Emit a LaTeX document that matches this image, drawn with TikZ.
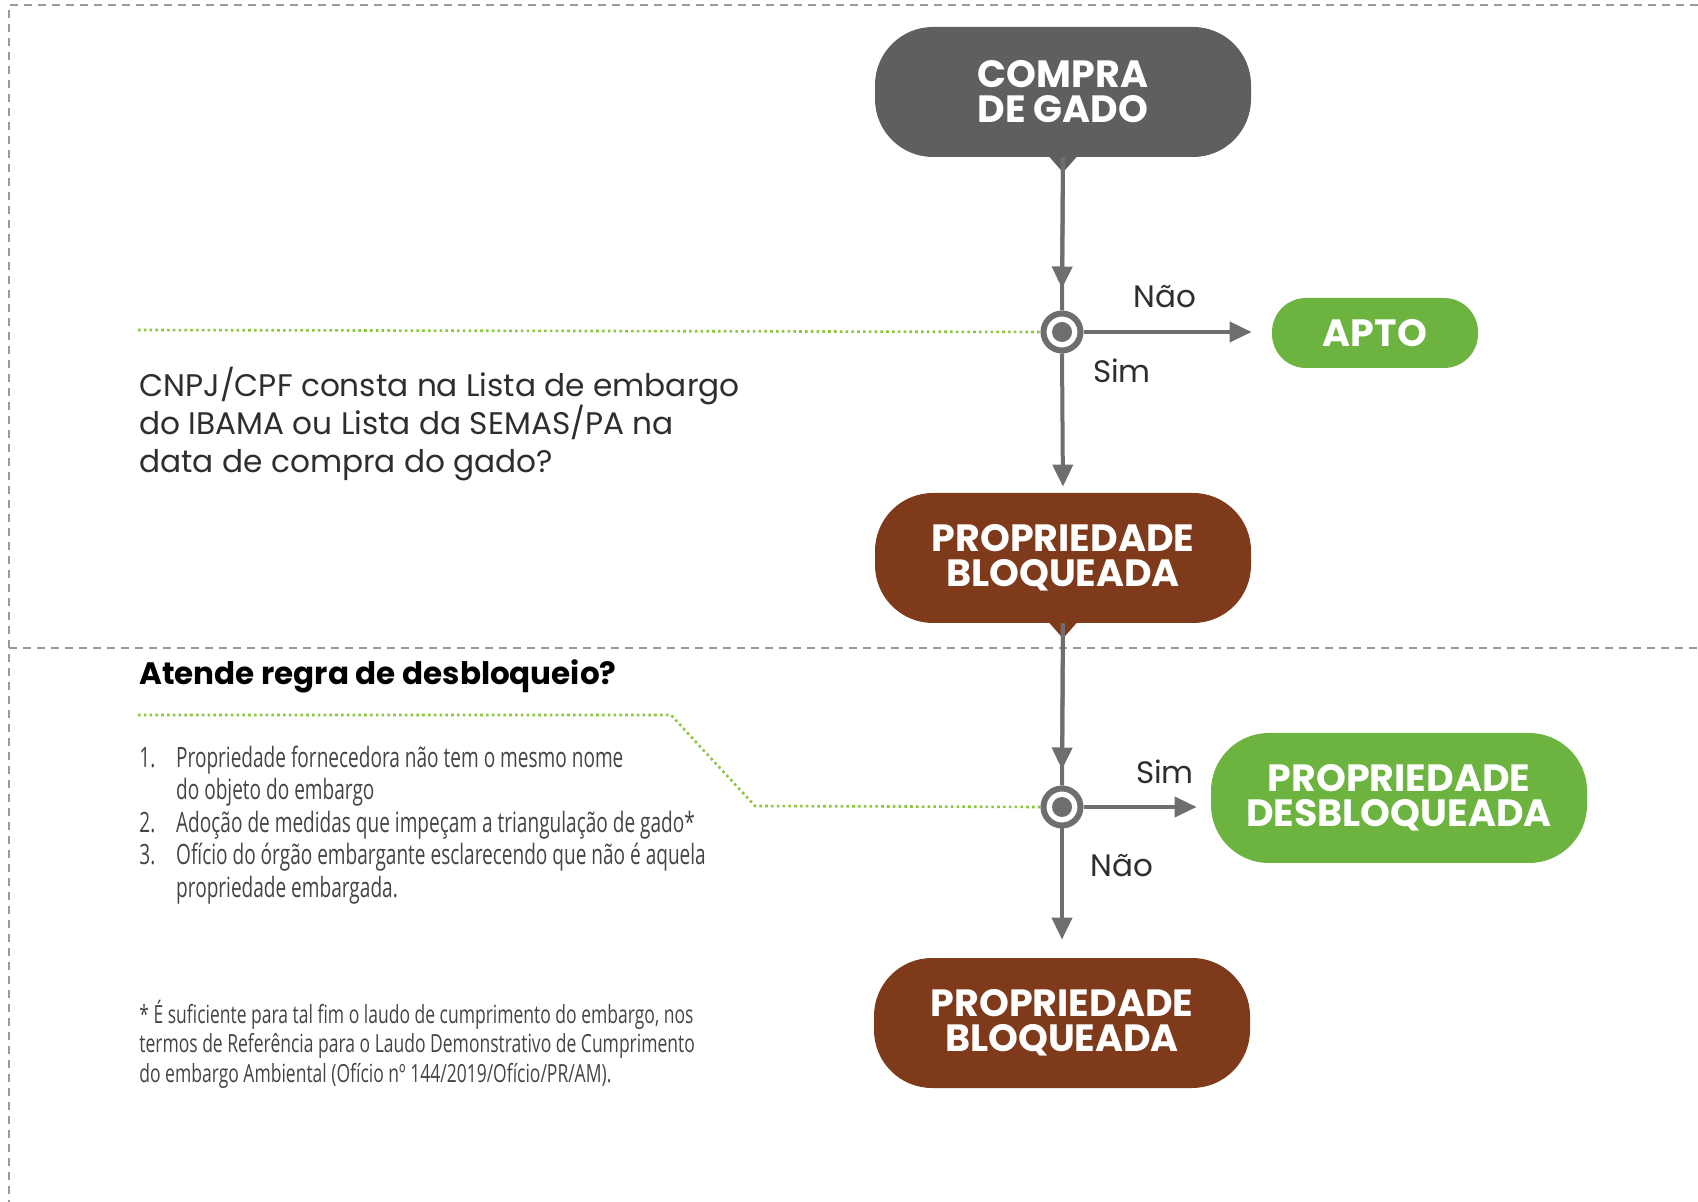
\documentclass[tikz,border=0pt]{standalone}
\usepackage{fontspec}
\setmainfont{Poppins}
\newfontfamily\condfont[FakeStretch=0.68]{Open Sans}
\newfontfamily\notefont[FakeStretch=0.70]{Open Sans}
\usetikzlibrary{arrows.meta}
\definecolor{nodegray}{HTML}{5E5F61}
\definecolor{brownc}{HTML}{7E3A1A}
\definecolor{greenc}{HTML}{6CB33F}
\definecolor{arrowc}{HTML}{6D6E70}
\definecolor{dotc}{HTML}{8CC63F}
\definecolor{borderc}{HTML}{9A9A9A}
\definecolor{textc}{HTML}{2E2E2E}
\definecolor{listc}{HTML}{444444}
\tikzset{
  pill/.style={rectangle, rounded corners=29pt, minimum width=188pt, minimum height=65pt,
    inner sep=0pt, text=white, align=center,
    font=\fontsize{19}{17.5}\selectfont\bfseries},
  graypill/.style={pill, fill=nodegray},
  brownpill/.style={pill, fill=brownc},
  greenpill/.style={pill, fill=greenc},
  junction/.style={circle, draw=arrowc, line width=3pt, fill=white, minimum size=18.5pt, inner sep=0pt,
    path picture={\fill[arrowc] (path picture bounding box.center) circle (5pt);}},
  flow/.style={draw=arrowc, line width=2pt},
  flowarrow/.style={flow, -{Triangle[length=11pt,width=10pt]}},
  guide/.style={draw=dotc, line width=1.3pt, dash pattern=on 1.3pt off 1.6pt},
  border/.style={draw=borderc, line width=1pt, dash pattern=on 4pt off 3pt},
  lbl/.style={font=\fontsize{15.5}{17}\selectfont, text=textc, inner sep=0pt}
}
\newcommand{\itemnum}[1]{\makebox[18.4pt][l]{#1}}
\begin{document}
\begin{tikzpicture}[x=0.5pt,y=-0.5pt]
\useasboundingbox (0,0) rectangle (1698,1202);
% borders
\coordinate (tl) at (9,5);
\coordinate (tr) at (1698,5);
\coordinate (bl) at (9,1202);
\coordinate (ml) at (9,648);
\coordinate (mr) at (1698,648);
\draw[border] (tr) -- (tl) -- (bl);
\draw[border] (ml) -- (mr);

% nodes
\node[graypill] (compra) at (1063,92) {COMPRA\\DE GADO};
\node[junction] (j1) at (1062,332) {};
\node[greenpill, minimum width=103pt, minimum height=35pt, rounded corners=17pt] (apto) at (1375,333) {APTO};
\node[brownpill] (bloq1) at (1063,558) {PROPRIEDADE\\BLOQUEADA};
\node[junction] (j2) at (1062,807) {};
\node[greenpill] (desbloq) at (1399,798) {PROPRIEDADE\\DESBLOQUEADA};
\node[brownpill] (bloq2) at (1062,1023) {PROPRIEDADE\\BLOQUEADA};

% pointers
\fill[nodegray] ([xshift=-7.5pt,yshift=1pt]compra.south) -- ([xshift=7.5pt,yshift=1pt]compra.south) -- ([yshift=-7.5pt]compra.south) -- cycle;
\fill[brownc] ([xshift=-7.5pt,yshift=1pt]bloq1.south) -- ([xshift=7.5pt,yshift=1pt]bloq1.south) -- ([yshift=-7.5pt]bloq1.south) -- cycle;

% connectors
\draw[flow] (compra.south) -- (j1.north);
\draw[flowarrow] (compra.south) -- ([yshift=11pt]j1.north);
\draw[flowarrow, shorten >=10pt] (j1.east) -- (j1.east -| apto.west);
\draw[flowarrow, shorten >=3pt] (j1.south) -- (bloq1.north);
\draw[flow] (bloq1.south) -- (j2.north);
\draw[flowarrow] (bloq1.south) -- ([yshift=8pt]j2.north);
\draw[flowarrow, shorten >=7pt] (j2.east) -- (j2.east -| desbloq.west);
\draw[flowarrow, shorten >=9pt] (j2.south) -- (bloq2.north);

% labels
\node[lbl] (nao1) at (1165,297) {Não};
\node[lbl] (sim1) at (1122,371) {Sim};
\node[lbl] (sim2) at (1165,772) {Sim};
\node[lbl] (nao2) at (1122,866) {Não};

% guide lines
\coordinate (g1) at (138,330);
\draw[guide] (g1) -- (j1.west);
\coordinate (g2a) at (138,715);
\coordinate (g2b) at (671,715);
\coordinate (g2c) at (755,806);
\draw[guide] (g2a) -- (g2b) -- (g2c) -- (j2.west);

% texts
\node[anchor=west, align=left, inner sep=0pt, text=textc,
  font=\fontsize{15.6}{19}\selectfont] (question) at (139,424)
  {CNPJ/CPF consta na Lista de embargo\\do IBAMA ou Lista da SEMAS/PA na\\data de compra do gado?};
\node[anchor=west, inner sep=0pt, text=black,
  font=\fontsize{15.5}{17}\selectfont\bfseries] (atende) at (139,676) {Atende regra de desbloqueio?};
\node[anchor=west, align=left, inner sep=0pt, text=listc,
  font=\condfont\fontsize{14}{16.25}\selectfont] (lista) at (139,825)
  {\itemnum{1.}Propriedade fornecedora não tem o mesmo nome\\
   \itemnum{}do objeto do embargo\\
   \itemnum{2.}Adoção de medidas que impeçam a triangulação de gado*\\
   \itemnum{3.}Ofício do órgão embargante esclarecendo que não é aquela\\
   \itemnum{}propriedade embargada.};
\node[anchor=west, align=left, inner sep=0pt, text=listc,
  font=\notefont\fontsize{12.5}{14.75}\selectfont] (nota) at (139,1044)
  {* É suficiente para tal fim o laudo de cumprimento do embargo, nos\\
   termos de Referência para o Laudo Demonstrativo de Cumprimento\\
   do embargo Ambiental (Ofício nº 144/2019/Ofício/PR/AM).};
\end{tikzpicture}
\end{document}
